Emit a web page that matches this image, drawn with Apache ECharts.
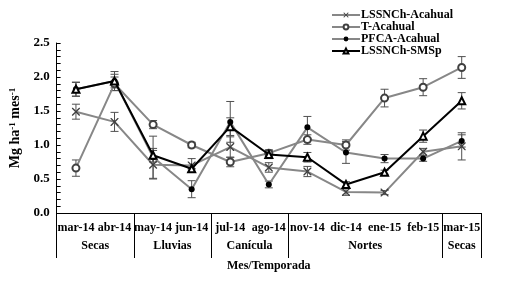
<!DOCTYPE html>
<html>
<head>
    <meta charset="UTF-8">
    <title>Mg ha-1 mes-1</title>
    <script src="https://cdn.jsdelivr.net/npm/echarts@6/dist/echarts.min.js"></script>
</head>
<body style="margin:0">
<div id="chartDom" style="width: 506px;height:282px;"></div>

<script type="text/javascript">
    // meses y temporadas
    var meses = ['mar-14', 'abr-14', 'may-14', 'jun-14', 'jul-14', 'ago-14', 'nov-14', 'dic-14', 'ene-15', 'feb-15', 'mar-15'];
    var temporadas = ['Secas', 'Lluvias', 'Canícula', 'Nortes', 'Secas'];
    var temporadaCentro = [1, 3, 5, 8, 10.5];
    var temporadaLimites = [0, 2, 4, 6, 10, 11];

    // valores medios y error (+/-)
    var lssnchAcahual = [1.49, 1.34, 0.71, 0.70, 0.97, 0.67, 0.61, 0.31, 0.30, 0.90, 0.98];
    var lssnchAcahualErr = [0.11, 0.14, 0.21, 0.10, 0.15, 0.07, 0.075, 0.05, 0.03, 0.05, 0.20];

    var tAcahual = [0.66, 1.90, 1.30, 1.00, 0.75, 0.88, 1.08, 1.00, 1.69, 1.85, 2.14];
    var tAcahualErr = [0.12, 0.10, 0.06, 0.04, 0.07, 0.05, 0.07, 0.075, 0.13, 0.125, 0.16];

    var pfcaAcahual = [1.82, 1.94, 0.82, 0.35, 1.34, 0.42, 1.26, 0.89, 0.80, 0.80, 1.06];
    var pfcaAcahualErr = [0.10, 0.10, 0.31, 0.125, 0.30, 0.05, 0.16, 0.16, 0.06, 0.04, 0.09];

    var lssnchSmsp = [1.82, 1.94, 0.85, 0.65, 1.27, 0.86, 0.82, 0.42, 0.60, 1.13, 1.65];
    var lssnchSmspErr = [0.105, 0.14, 0.10, 0.05, 0.13, 0.06, 0.07, 0.04, 0.03, 0.09, 0.12];

    var yTicks = [0, 0.5, 1.0, 1.5, 2.0, 2.5];

    var fuente = 'Liberation Serif';
    var gris = '#878787';
    var xPath = 'path://M0,0 L1.2,0 L5,3.8 L8.8,0 L10,0 L10,1.2 L6.2,5 L10,8.8 L10,10 L8.8,10 L5,6.2 L1.2,10 L0,10 L0,8.8 L3.8,5 L0,1.2 Z';

    var myChart = echarts.init(document.getElementById('chartDom'));

    // barras de error
    function errData(vals, errs) {
        return vals.map(function (v, i) {
            return [i, v - errs[i], v + errs[i]];
        });
    }

    function renderErr(params, api) {
        var lo = api.coord([api.value(0), api.value(1)]);
        var hi = api.coord([api.value(0), api.value(2)]);
        var w = 4;
        var st = { stroke: '#505050', lineWidth: 1 };
        return {
            type: 'group',
            children: [
                { type: 'line', shape: { x1: hi[0], y1: hi[1], x2: lo[0], y2: lo[1] }, style: st },
                { type: 'line', shape: { x1: hi[0] - w, y1: hi[1], x2: hi[0] + w, y2: hi[1] }, style: st },
                { type: 'line', shape: { x1: lo[0] - w, y1: lo[1], x2: lo[0] + w, y2: lo[1] }, style: st }
            ]
        };
    }

    function errSerie(vals, errs) {
        return {
            type: 'custom',
            xAxisIndex: 0,
            renderItem: renderErr,
            encode: { x: 0, y: [1, 2] },
            data: errData(vals, errs),
            silent: true,
            z: 1
        };
    }

    var option = {
        animation: false,
        textStyle: { fontFamily: fuente },
        grid: { left: 41, right: 25, top: 43, bottom: 69 },
        legend: {
            orient: 'vertical',
            left: 326,
            top: 4,
            itemWidth: 28,
            itemHeight: 6,
            itemGap: 0,
            textStyle: { fontFamily: fuente, fontWeight: 'bold', fontSize: 12, color: '#000', lineHeight: 12, padding: [0, 0, 0, -4] },
            data: ['LSSNCh-Acahual', 'T-Acahual', 'PFCA-Acahual', 'LSSNCh-SMSp']
        },
        xAxis: [{
            type: 'category',
            data: meses,
            boundaryGap: true,
            axisLine: { lineStyle: { color: '#000', width: 1 } },
            axisTick: { show: false },
            axisLabel: { interval: 0, margin: 9, color: '#000', fontWeight: 'bold', fontSize: 12, fontFamily: fuente }
        }, {
            type: 'value',
            min: 0,
            max: 11,
            position: 'bottom',
            axisLine: { show: false },
            splitLine: { show: false },
            axisTick: { show: true, customValues: temporadaLimites, length: 45, lineStyle: { color: '#000', width: 1 } },
            axisLabel: {
                customValues: temporadaCentro,
                margin: 27,
                color: '#000', fontWeight: 'bold', fontSize: 12, fontFamily: fuente,
                formatter: function (v) {
                    return temporadas[temporadaCentro.indexOf(v)];
                }
            },
            name: 'Mes/Temporada',
            nameLocation: 'middle',
            nameGap: 47,
            nameTextStyle: { color: '#000', fontWeight: 'bold', fontSize: 12, fontFamily: fuente }
        }],
        yAxis: {
            type: 'value',
            min: yTicks[0],
            max: yTicks[yTicks.length - 1],
            interval: 0.5,
            axisLine: { show: true, lineStyle: { color: '#000', width: 1 } },
            axisTick: { show: true, inside: true, length: 4, lineStyle: { color: '#000' } },
            minorTick: { show: true, splitNumber: 5, length: 4, lineStyle: { color: '#000' } },
            splitLine: { show: false },
            axisLabel: {
                margin: 7, color: '#000', fontWeight: 'bold', fontSize: 13, fontFamily: fuente,
                formatter: function (v) { return v.toFixed(1); }
            },
            name: '{a|Mg ha}{s|-1}{a| mes}{s|-1}',
            nameLocation: 'middle',
            nameRotate: 90,
            nameGap: 25,
            nameTextStyle: {
                rich: {
                    a: { fontFamily: fuente, fontWeight: 'bold', fontSize: 14, color: '#000' },
                    s: { fontFamily: fuente, fontWeight: 'bold', fontSize: 9, color: '#000', verticalAlign: 'top', padding: [0, 0, 6, 0] }
                }
            }
        },
        series: [
            errSerie(lssnchAcahual, lssnchAcahualErr),
            errSerie(tAcahual, tAcahualErr),
            errSerie(pfcaAcahual, pfcaAcahualErr),
            errSerie(lssnchSmsp, lssnchSmspErr),
            {
                name: 'LSSNCh-Acahual',
                type: 'line',
                data: lssnchAcahual,
                symbol: xPath,
                symbolSize: 8,
                lineStyle: { color: gris, width: 2 },
                itemStyle: { color: '#404040' },
                z: 2
            },
            {
                name: 'T-Acahual',
                type: 'line',
                data: tAcahual,
                symbol: 'emptyCircle',
                symbolSize: 7,
                lineStyle: { color: gris, width: 2 },
                itemStyle: { color: '#404040', borderWidth: 1 },
                z: 2
            },
            {
                name: 'PFCA-Acahual',
                type: 'line',
                data: pfcaAcahual,
                symbol: 'circle',
                symbolSize: 6,
                lineStyle: { color: gris, width: 2 },
                itemStyle: { color: '#000' },
                z: 2
            },
            {
                name: 'LSSNCh-SMSp',
                type: 'line',
                data: lssnchSmsp,
                symbol: 'emptyTriangle',
                symbolSize: 7,
                lineStyle: { color: '#000', width: 2 },
                itemStyle: { color: '#000', borderWidth: 1 },
                z: 3
            }
        ]
    };

    myChart.setOption(option);
</script>
</body>
</html>
